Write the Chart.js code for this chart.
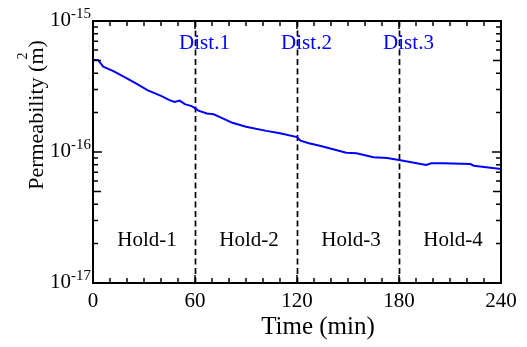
<!DOCTYPE html>
<html>
<head>
<meta charset="utf-8">
<script src="https://cdn.jsdelivr.net/npm/chart.js@4/dist/chart.umd.min.js"></script>
<style>
  html, body { margin: 0; padding: 0; background: #ffffff; }
  canvas { display: block; }
</style>
</head>
<body>
<canvas id="chart" width="527" height="347"></canvas>
<script>
// Permeability measured while holding, with disturbances at the hold boundaries
const timeMin = [0, 3, 6, 12, 18, 25, 32, 40, 45, 48, 51, 54, 58, 60, 62, 67, 71, 75, 82, 90,
  102, 110, 120, 122, 127, 134, 149, 155, 165, 173, 180, 196, 199, 206, 222, 224, 240];
const permeability = [5.04e-16, 5.04e-16, 4.48e-16, 4.15e-16, 3.76e-16, 3.36e-16, 2.97e-16, 2.68e-16,
  2.49e-16, 2.41e-16, 2.47e-16, 2.32e-16, 2.24e-16, 2.16e-16, 2.07e-16, 1.97e-16, 1.94e-16, 1.84e-16,
  1.67e-16, 1.56e-16, 1.45e-16, 1.39e-16, 1.30e-16, 1.22e-16, 1.165e-16, 1.11e-16, 9.88e-17, 9.77e-17,
  9.11e-17, 9.0e-17, 8.69e-17, 7.96e-17, 8.2e-17, 8.2e-17, 8.1e-17, 7.86e-17, 7.42e-17];

const xTicks = [0, 60, 120, 180, 240];
const yDecadeExponents = [-17, -16, -15];
const disturbanceTimes = [60, 120, 180];
const disturbanceLabels = ['Dist.1', 'Dist.2', 'Dist.3'];
const holdLabels = ['Hold-1', 'Hold-2', 'Hold-3', 'Hold-4'];
const holdBounds = [0, 60, 120, 180, 240];

const SERIF = '"Liberation Serif", "Times New Roman", serif';

const points = timeMin.map((t, i) => ({ x: t, y: permeability[i] }));

const framePlugin = {
  id: 'frame',
  beforeDatasetsDraw(chart) {
    const { ctx, chartArea: a, scales: { x } } = chart;
    ctx.save();
    ctx.strokeStyle = '#000';
    ctx.lineWidth = 1.7;
    ctx.setLineDash([6, 3.5]);
    disturbanceTimes.forEach(t => {
      const px = Math.round(x.getPixelForValue(t)) + 0.5;
      ctx.beginPath();
      ctx.moveTo(px, a.top);
      ctx.lineTo(px, a.bottom);
      ctx.stroke();
    });
    ctx.restore();
  },
  afterDraw(chart) {
    const { ctx, chartArea: a, scales: { x, y } } = chart;
    ctx.save();
    ctx.strokeStyle = '#000';
    ctx.lineWidth = 2;
    ctx.strokeRect(a.left, a.top, a.right - a.left, a.bottom - a.top);

    // x ticks (inward, top and bottom)
    ctx.lineWidth = 1.5;
    for (let t = 0; t <= 240; t += 10) {
      const px = x.getPixelForValue(t);
      const len = (t % 60 === 0) ? 8 : 5;
      ctx.beginPath();
      ctx.moveTo(px, a.bottom); ctx.lineTo(px, a.bottom - len);
      ctx.moveTo(px, a.top); ctx.lineTo(px, a.top + len);
      ctx.stroke();
    }
    // y ticks (log, inward, left and right)
    for (let e = -17; e < -15; e++) {
      for (let m = 1; m <= 9; m++) {
        const py = y.getPixelForValue(m * Math.pow(10, e));
        const len = (m === 1) ? 9 : (m === 5 ? 8 : 5);
        ctx.beginPath();
        ctx.moveTo(a.left, py); ctx.lineTo(a.left + len, py);
        ctx.moveTo(a.right, py); ctx.lineTo(a.right - len, py);
        ctx.stroke();
      }
    }

    ctx.fillStyle = '#000';
    // x tick labels
    ctx.font = '21px ' + SERIF;
    ctx.textAlign = 'center';
    ctx.textBaseline = 'alphabetic';
    xTicks.forEach(t => ctx.fillText(String(t), x.getPixelForValue(t), a.bottom + 24));

    // y tick labels 10^n
    yDecadeExponents.forEach(e => {
      const py = y.getPixelForValue(Math.pow(10, e));
      const exp = String(e);
      ctx.font = '15px ' + SERIF;
      ctx.textAlign = 'right';
      const ew = ctx.measureText(exp).width;
      ctx.fillText(exp, a.left - 2, py - 3);
      ctx.font = '21px ' + SERIF;
      ctx.fillText('10', a.left - 2 - ew, py + 5);
    });

    // axis titles
    ctx.font = '25px ' + SERIF;
    ctx.textAlign = 'center';
    ctx.fillText('Time (min)', (a.left + a.right) / 2 + 21, a.bottom + 51);

    ctx.save();
    ctx.translate(43, (a.top + a.bottom) / 2 - 37);
    ctx.rotate(-Math.PI / 2);
    ctx.font = '22px ' + SERIF;
    const full = 'Permeability (m)';
    const fw = ctx.measureText(full).width;
    ctx.textAlign = 'left';
    ctx.fillText(full, -fw / 2, 0);
    const wBeforeM = ctx.measureText('Permeability (').width;
    const wM = ctx.measureText('m').width;
    ctx.font = '14px ' + SERIF;
    ctx.textAlign = 'center';
    ctx.fillText('2', -fw / 2 + wBeforeM + wM / 2, -16);
    ctx.restore();

    // disturbance labels
    ctx.font = '21px ' + SERIF;
    ctx.textAlign = 'center';
    ctx.fillStyle = '#0000ff';
    disturbanceTimes.forEach((t, i) => {
      ctx.fillText(disturbanceLabels[i], x.getPixelForValue(t) + 9.5, a.top + 28);
    });

    // hold labels
    ctx.fillStyle = '#000';
    holdLabels.forEach((lbl, i) => {
      const mid = (x.getPixelForValue(holdBounds[i]) + x.getPixelForValue(holdBounds[i + 1])) / 2;
      ctx.fillText(lbl, mid + 3, a.top + 225);
    });
    ctx.restore();
  }
};

new Chart(document.getElementById('chart'), {
  type: 'line',
  data: {
    datasets: [{
      data: points,
      borderColor: '#0000ff',
      borderWidth: 2,
      pointRadius: 0,
      tension: 0,
      fill: false
    }]
  },
  options: {
    responsive: false,
    animation: false,
    layout: { padding: { left: 93, right: 26, top: 21, bottom: 64 } },
    plugins: { legend: { display: false }, tooltip: { enabled: false } },
    scales: {
      x: { type: 'linear', min: 0, max: 240, display: false },
      y: { type: 'logarithmic', min: 1e-17, max: 1e-15, display: false }
    }
  },
  plugins: [framePlugin]
});
</script>
</body>
</html>
